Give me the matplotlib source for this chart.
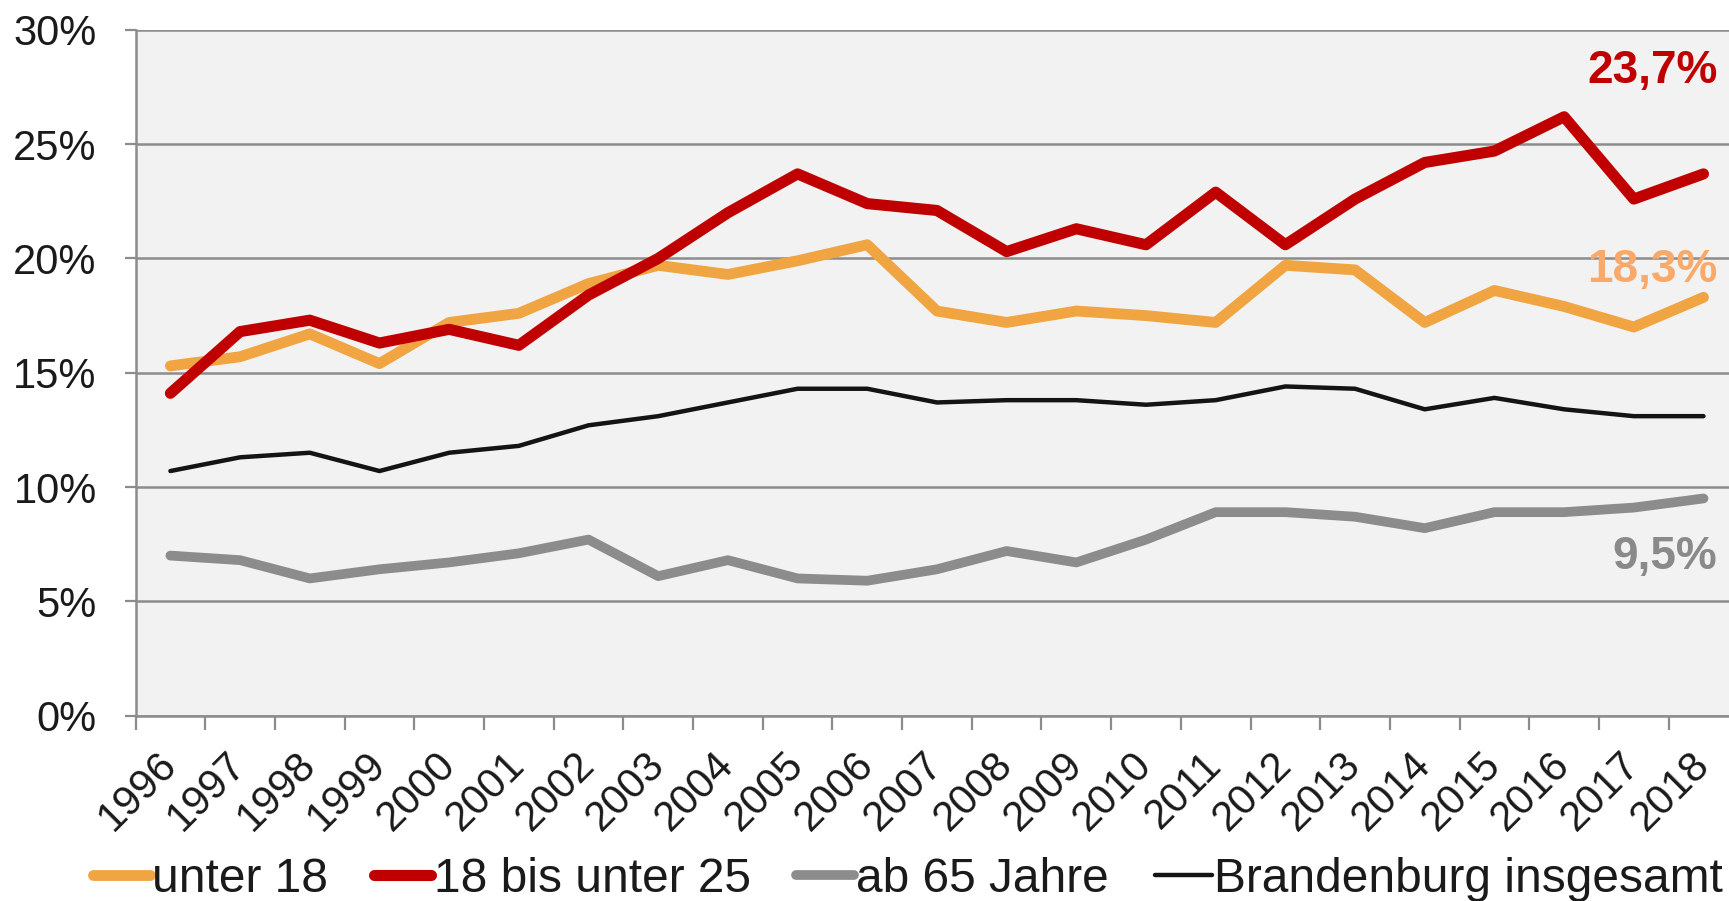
"""Armutsgefährdungsquoten nach Altersgruppen, Brandenburg 1996-2018."""

import matplotlib

matplotlib.use("Agg")

import matplotlib.pyplot as plt
from matplotlib.lines import Line2D
from matplotlib.ticker import FixedLocator


YEARS = [str(y) for y in range(1996, 2019)]

UNTER_18 = [15.3, 15.7, 16.7, 15.4, 17.2, 17.6, 18.9, 19.7, 19.3, 19.9, 20.6, 17.7,
            17.2, 17.7, 17.5, 17.2, 19.7, 19.5, 17.2, 18.6, 17.9, 17.0, 18.3]
U18_BIS_25 = [14.1, 16.8, 17.3, 16.3, 16.9, 16.2, 18.4, 20.0, 22.0, 23.7, 22.4, 22.1,
              20.3, 21.3, 20.6, 22.9, 20.6, 22.6, 24.2, 24.7, 26.2, 22.6, 23.7]
AB_65 = [7.0, 6.8, 6.0, 6.4, 6.7, 7.1, 7.7, 6.1, 6.8, 6.0, 5.9, 6.4,
         7.2, 6.7, 7.7, 8.9, 8.9, 8.7, 8.2, 8.9, 8.9, 9.1, 9.5]
INSGESAMT = [10.7, 11.3, 11.5, 10.7, 11.5, 11.8, 12.7, 13.1, 13.7, 14.3, 14.3, 13.7,
             13.8, 13.8, 13.6, 13.8, 14.4, 14.3, 13.4, 13.9, 13.4, 13.1, 13.1]

SERIES_NAMES = ["unter 18", "18 bis unter 25", "ab 65 Jahre", "Brandenburg insgesamt"]
COLORS = ["#F0A542", "#C00000", "#8C8C8C", "#141414"]
WIDTHS = [7.8, 8.0, 7.0, 3.2]

END_LABELS = ["18,3%", "23,7%", "9,5%"]
END_LABEL_Y = [19.5, 28.2, 6.95]
END_LABEL_COLORS = ["#F9AA6A", "#C00000", "#8A8A8A"]

Y_TICKS = [0, 5, 10, 15, 20, 25, 30]

FONT = "Liberation Sans"
GRID = "#8C8C8C"


def main() -> None:
    plt.rcParams["font.family"] = [FONT, "DejaVu Sans"]

    fig = plt.figure(figsize=(17.29, 9.01), dpi=100)
    ax = fig.add_axes([0.0784, 0.2058, 0.927, 0.761])
    ax.set_facecolor("#F2F2F2")

    x = list(range(len(YEARS)))
    for values, name, color, lw in zip(
        [UNTER_18, U18_BIS_25, AB_65, INSGESAMT], SERIES_NAMES, COLORS, WIDTHS
    ):
        ax.plot(x, values, color=color, lw=lw, label=name,
                solid_capstyle="round", solid_joinstyle="round", zorder=3)

    ax.set_xlim(-0.5, len(YEARS) - 0.5)
    ax.set_ylim(0, 30)

    # y axis
    ax.set_yticks(Y_TICKS)
    ax.set_yticklabels([f"{v}%" for v in Y_TICKS])
    ax.yaxis.grid(True, color=GRID, lw=1.8, zorder=1)
    ax.set_axisbelow(True)
    ax.tick_params(axis="y", length=8, width=1.6, color=GRID, pad=20,
                   labelsize=30, labelcolor="#1A1A1A")

    # x axis: labels centred on categories, ticks on the boundaries
    ax.set_xticks(x)
    ax.set_xticklabels(YEARS, rotation=45, ha="right", va="center",
                       rotation_mode="anchor")
    ax.tick_params(axis="x", which="major", length=0, pad=31,
                   labelsize=30, labelcolor="#1A1A1A")
    ax.xaxis.set_minor_locator(FixedLocator([i - 0.5 for i in range(len(YEARS) + 1)]))
    ax.tick_params(axis="x", which="minor", length=10, width=1.6, color=GRID)

    for side in ["top", "right"]:
        ax.spines[side].set_visible(False)
    for side in ["left", "bottom"]:
        ax.spines[side].set_color(GRID)
        ax.spines[side].set_linewidth(1.8)

    # end-of-series value labels
    for text, y, color in zip(END_LABELS, END_LABEL_Y, END_LABEL_COLORS):
        ax.text(22.2, y, text, color=color, fontsize=33, fontweight="bold",
                ha="right", va="center", clip_on=False, zorder=4)

    handles = [
        Line2D([], [], color=c, lw=lw, solid_capstyle="round")
        for c, lw in zip(COLORS, WIDTHS)
    ]
    fig.legend(handles, SERIES_NAMES, loc="center left",
               bbox_to_anchor=(0.0535, 0.024), ncol=4, frameon=False,
               fontsize=34.5, handlelength=1.2, handletextpad=0.05,
               columnspacing=0.95, borderpad=0, borderaxespad=0,
               labelcolor="#1A1A1A")

    fig.savefig("out.png", dpi=100)
    plt.close(fig)


if __name__ == "__main__":
    main()
